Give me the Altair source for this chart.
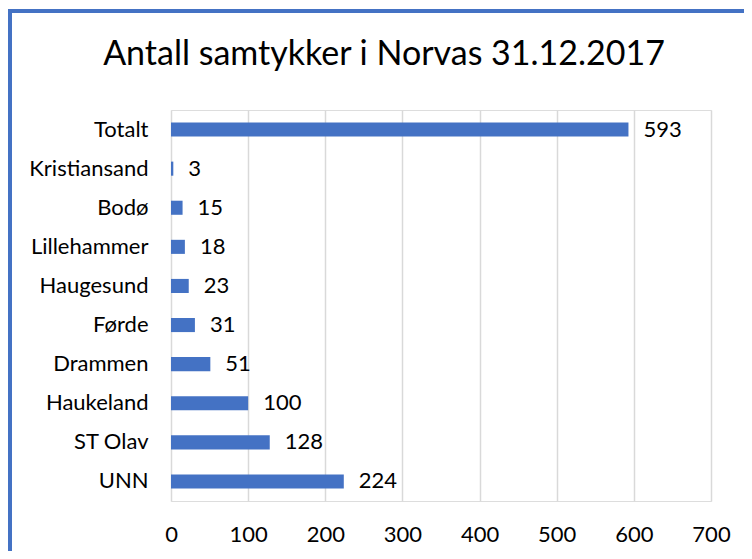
import altair as alt
import pandas as pd

categories = ["Totalt", "Kristiansand", "Bodø", "Lillehammer", "Haugesund",
              "Førde", "Drammen", "Haukeland", "ST Olav", "UNN"]
values = [593, 3, 15, 18, 23, 31, 51, 100, 128, 224]
x_ticks = [0, 100, 200, 300, 400, 500, 600, 700]
title_text = "Antall samtykker i Norvas 31.12.2017"

df = pd.DataFrame({"sted": categories, "antall": values})

FONT = "Lato"
BLUE = "#4472C4"
FS = 22

x = alt.X("antall:Q",
          scale=alt.Scale(domain=[0, 700], nice=False),
          axis=alt.Axis(values=x_ticks, title=None, grid=True, gridColor="#d9d9d9",
                        gridWidth=1.5, domain=False, ticks=False, tickSize=0,
                        labelFont=FONT, labelFontSize=FS, labelColor="#000000",
                        labelBaseline="alphabetic", labelPadding=40, labelFlush=False))
y = alt.Y("sted:N", sort=categories,
          scale=alt.Scale(paddingInner=0.64, paddingOuter=0.32),
          axis=alt.Axis(title=None, domain=False, ticks=False, tickSize=0, grid=False,
                        labelFont=FONT, labelFontSize=FS, labelColor="#000000",
                        labelPadding=23))

bars = alt.Chart(df).mark_bar(color=BLUE).encode(x=x, y=y)
labels = alt.Chart(df).mark_text(align="left", baseline="middle", dx=15,
                                 font=FONT, fontSize=FS, color="#000000").encode(
    x="antall:Q", y=alt.Y("sted:N", sort=categories), text="antall:Q")

frame = alt.Chart(pd.DataFrame({"f": [0]})).mark_rect(
    fill=None, stroke=BLUE, strokeWidth=4, clip=False).encode(
    x=alt.value(-161), x2=alt.value(800), y=alt.value(-99), y2=alt.value(700))

chart = alt.layer(frame, bars, labels).properties(
    width=540, height=391,
    autosize=alt.AutoSizeParams(type="none"),
    padding={"left": 163, "top": 102, "right": 33, "bottom": 50},
    title=alt.TitleParams(title_text, font=FONT, fontSize=34, fontWeight="normal",
                          color="#000000", anchor="middle", dx=-57, offset=-90,
                          baseline="alphabetic"),
).configure_view(stroke="transparent", strokeWidth=0, strokeOpacity=0).configure(background="white")

chart.save("out.html", embed_options={"renderer": "svg", "actions": False})
